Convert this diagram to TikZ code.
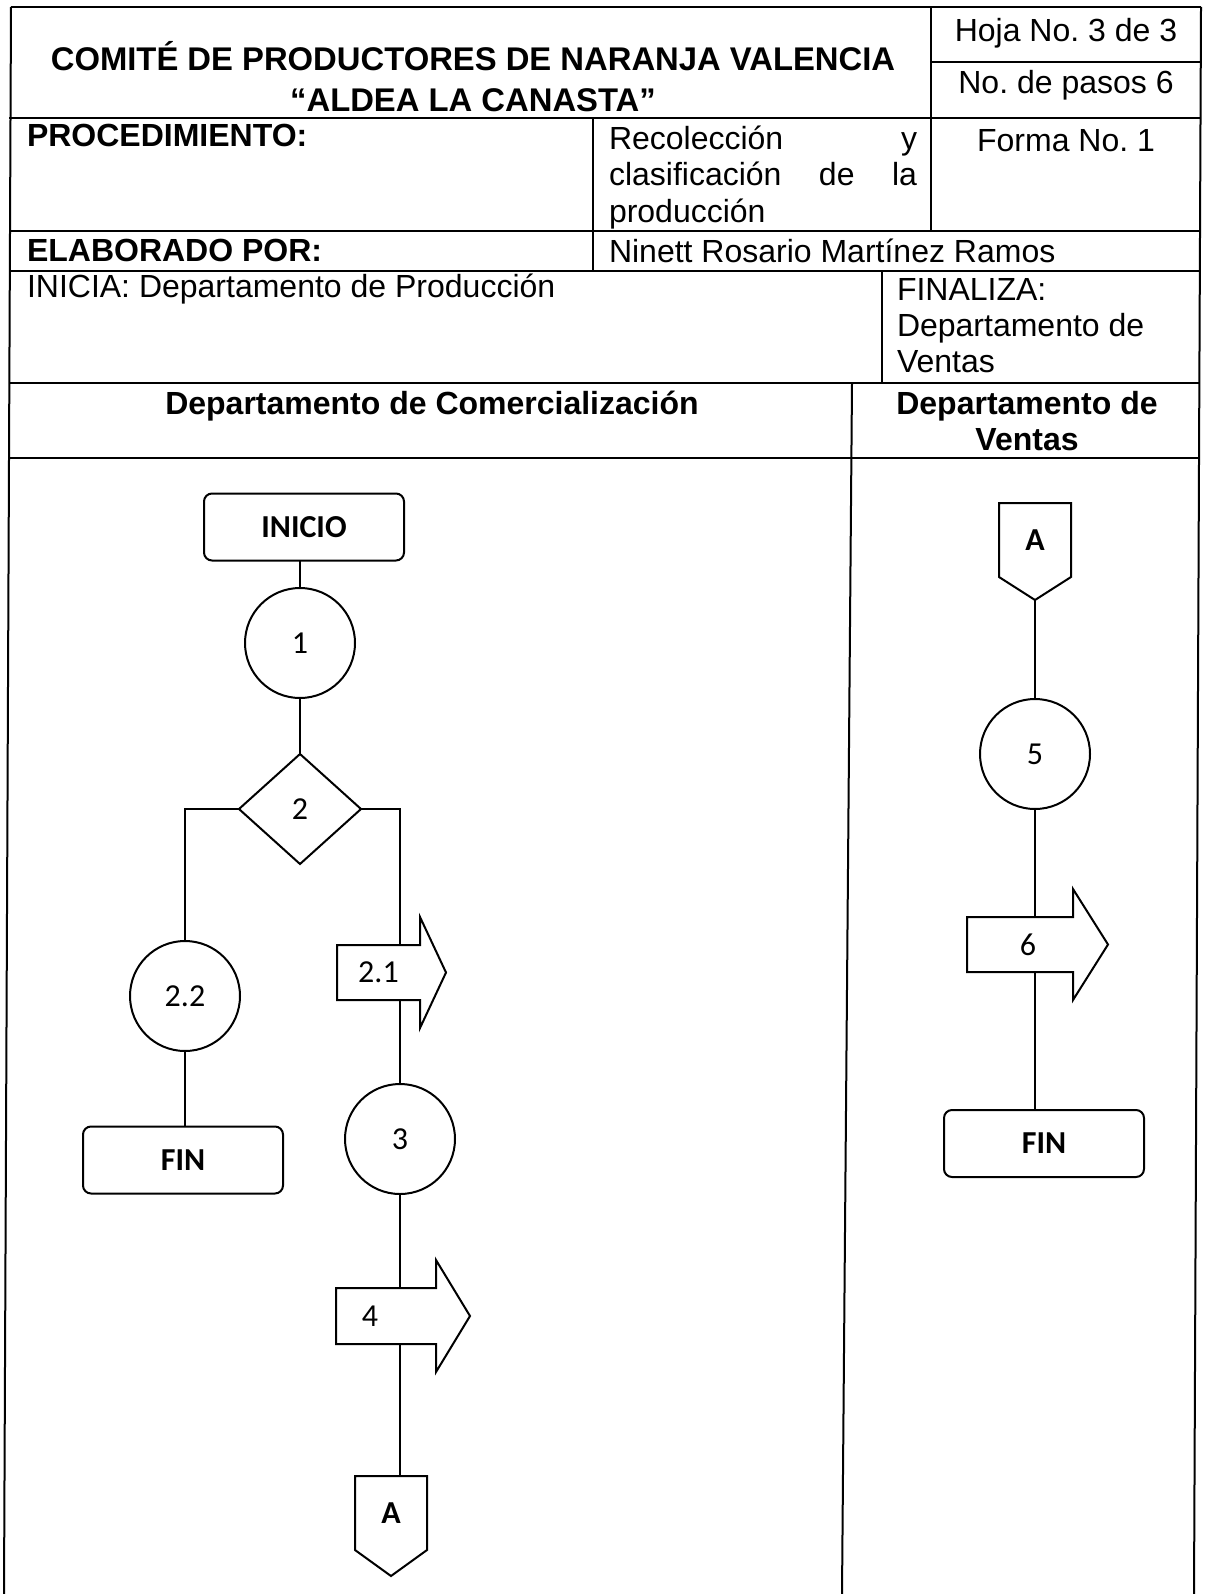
\documentclass[tikz,border=0pt]{standalone}
\usepackage{fontspec}
\setmainfont{Liberation Sans}
\newfontfamily\calibri{Carlito}
\usetikzlibrary{shapes.geometric,calc}
\frenchspacing

\newcommand{\flecha}[3]{\draw (#1.north west) -- (#1.north east) -- ++(0,-#3)
  -- ($(#1.east)+(#2,0)$) -- ($(#1.south east)+(0,#3)$) -- (#1.south east) -- (#1.south west) -- cycle;}
\newcommand{\conector}[2]{\draw (#1.south west) -- (#1.north west) -- (#1.north east)
  -- (#1.south east) -- ($(#1.south)+(0,#2)$) coordinate (#1-punta) -- cycle;}

\begin{document}
\begin{tikzpicture}
  [x=0.5pt,y=-0.5pt,line width=1pt,
   every node/.style={inner sep=0pt,outer sep=0pt,font=\fontsize{16}{18}\selectfont},
   txt/.style={anchor=base west,align=left},
   ctxt/.style={anchor=base,align=center},
   negrita/.style={font=\fontsize{16}{18}\selectfont\bfseries},
   terminal/.style={draw,rectangle,rounded corners=4pt,minimum width=100pt,minimum height=33.5pt,font=\calibri\fontsize{16}{18}\selectfont\bfseries},
   paso/.style={draw,circle,minimum size=55pt,font=\calibri\fontsize{16}{18}\selectfont},
   decision/.style={draw,diamond,minimum width=61pt,minimum height=55pt,font=\calibri\fontsize{16}{18}\selectfont},
   cuerpo/.style={rectangle,font=\calibri\fontsize{16}{18}\selectfont},
   conector/.style={rectangle,minimum width=36pt,minimum height=37pt,font=\calibri\fontsize{16}{18}\selectfont\bfseries}]
  \useasboundingbox (0,0) rectangle (1208,1594);
  % tabla
  \draw (11,7) -- (1201,7);
  \draw (931,62) -- (1201,62);
  \foreach \y in {118,231,271,383,458}
    \draw (9,\y) -- (1200,\y);
  \draw (11,7) -- (4,1594);
  \draw (1201,7) -- (1194,1594);
  \draw (931,7) -- (931,231);
  \draw (593,118) -- (593,271);
  \draw (882,271) -- (882,383);
  \draw (852,383) -- (842,1594);

  % multi-line nodes sit on their last baseline
  \node[ctxt,font=\fontsize{16.4}{20.5}\selectfont\bfseries] (tit) at (473,112) {COMITÉ DE PRODUCTORES DE NARANJA VALENCIA\\“ALDEA LA CANASTA”};
  \node[ctxt] (hoja) at (1066,42) {Hoja No. 3 de 3};
  \node[ctxt] (pasos) at (1066,94) {No. de pasos 6};
  \node[txt,negrita] (proc) at (27,147) {PROCEDIMIENTO:};
  \node[txt] (rec) at (609,222) {\hbox to 154pt{Recolección\hfill y}\\\hbox to 154pt{clasificación\hfill de\hfill la}\\producción};
  \node[ctxt] (forma) at (1066,152) {Forma No. 1};
  \node[txt,negrita] (elab) at (27,262) {ELABORADO POR:};
  \node[txt] (autor) at (609,263) {Ninett Rosario Martínez Ramos};
  \node[txt] (inicia) at (27,297) {INICIA: Departamento de Producción};
  \node[txt] (finaliza) at (897,372) {FINALIZA:\\Departamento de\\Ventas};
  \node[ctxt,negrita] (depc) at (432,414) {Departamento de Comercialización};
  \node[ctxt,negrita] (depv) at (1027,450) {Departamento de\\Ventas};

  % diagrama
  \node[terminal] (ini) at (304,527) {INICIO};
  \node[paso] (c1) at (300,643) {1};
  \node[decision] (d2) at (300,809) {2};
  \node[paso] (c22) at (185,996) {2.2};
  \node[terminal] (fin1) at (183,1160) {FIN};
  \node[cuerpo,minimum width=41.5pt,minimum height=27.5pt] (p21) at (378.5,972.5) {2.1};
  \node[paso] (c3) at (400,1139) {3};
  \node[cuerpo,minimum width=50pt,minimum height=28pt] (p4) at (386,1316) {4\hspace*{16pt}};
  \node[conector] (oA1) at (391,1513) {A};
  \node[conector] (oA2) at (1035,540) {A};
  \node[paso] (c5) at (1035,754) {5};
  \node[cuerpo,minimum width=53pt,minimum height=27.5pt] (p6) at (1020,944.5) {\hspace*{8pt}6};
  \node[terminal] (fin2) at (1044,1143.5) {FIN};
  \flecha{p21}{26}{28}
  \flecha{p4}{34}{28}
  \flecha{p6}{35}{28}
  \conector{oA1}{26}
  \conector{oA2}{23}

  \foreach \de/\a/\eje in {ini/c1/c1,c1/d2/c1,c22/fin1/c22,p21/c3/c3,c3/p4/c3,p4/oA1/c3,c5/p6/c5,p6/fin2/c5}
    \draw (\eje |- \de.south) -- (\eje |- \a.north);
  \draw (d2.west) -| (c22.north);
  \draw (d2.east) -| (c3 |- p21.north);
  \draw (oA2-punta) -- (c5.north);
\end{tikzpicture}
\end{document}
